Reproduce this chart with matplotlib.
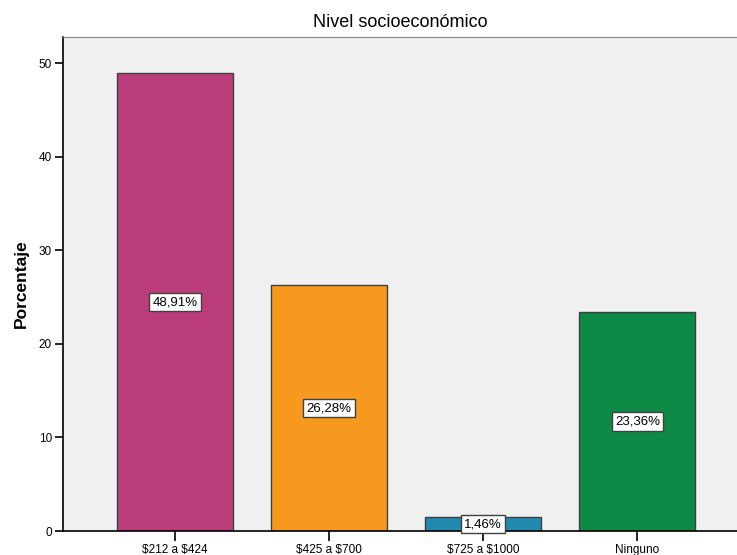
import matplotlib
matplotlib.use("Agg")
import matplotlib.pyplot as plt

# Data
categories = ["$212 a $424", "$425 a $700", "$725 a $1000", "Ninguno"]
percentages = [48.91, 26.28, 1.46, 23.36]
bar_colors = ["#BA3D79", "#F7981F", "#2489AE", "#0E8A47"]
yticks = [0, 10, 20, 30, 40, 50]

plt.rcParams["font.family"] = ["Liberation Sans", "DejaVu Sans"]
plt.rcParams["text.parse_math"] = False

fig = plt.figure(figsize=(7.37, 5.55), dpi=100)
ax = fig.add_axes([63 / 737, 24 / 555, 1 - 63 / 737, (531 - 37) / 555])
ax.set_facecolor("#F0F0F0")

x = range(len(categories))
ax.bar(x, percentages, width=0.753, color=bar_colors,
       edgecolor="#404040", linewidth=1.0, zorder=2)

for xi, v in zip(x, percentages):
    ax.text(xi, v / 2, f"{v:.2f}%".replace(".", ","), ha="center", va="center",
            fontsize=9.5, zorder=3,
            bbox=dict(boxstyle="square,pad=0.25", facecolor="white",
                      edgecolor="#404040", linewidth=1.0))

ax.set_xlim(-0.727, 3.646)
ax.set_ylim(0, 52.78)
ax.set_yticks(yticks)
ax.set_xticks(list(x))
ax.set_xticklabels(categories, fontsize=8.5)
ax.tick_params(axis="y", labelsize=8.5, length=6, width=1.2, direction="out", pad=2)
ax.tick_params(axis="x", length=7, width=1.2, direction="out", pad=2)

ax.spines["right"].set_visible(False)
ax.spines["top"].set_color("#888888")
ax.spines["left"].set_color("black")
ax.spines["bottom"].set_color("black")
ax.spines["left"].set_linewidth(1.2)
ax.spines["bottom"].set_linewidth(1.2)

ax.set_ylabel("Porcentaje", fontsize=12.5, fontweight="bold", labelpad=7)
ax.set_title("Nivel socioeconómico", fontsize=13, pad=7)

fig.savefig("out.png", dpi=100)
